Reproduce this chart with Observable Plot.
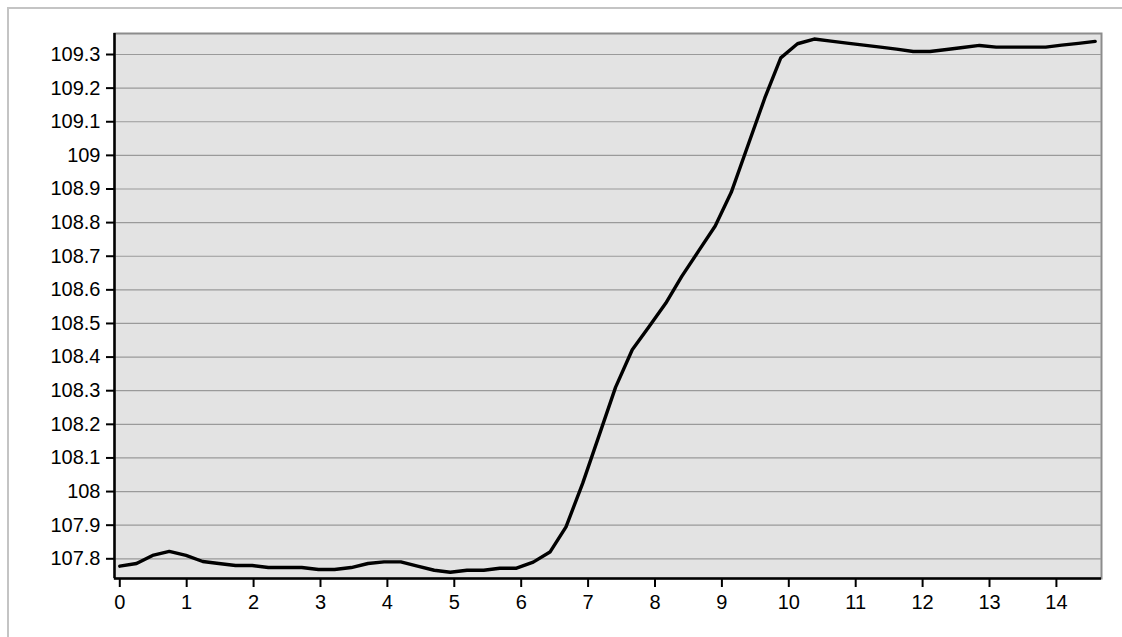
<!DOCTYPE html>
<html><head><meta charset="utf-8">
<script src="https://cdn.jsdelivr.net/npm/d3@7"></script>
<script src="https://cdn.jsdelivr.net/npm/@observablehq/plot@0.6"></script>
<style>
html,body{margin:0;padding:0;background:#fff;overflow:hidden}
#wrap{position:relative;width:1122px;height:637px;overflow:hidden}
#outer{position:absolute;left:7px;top:7px;width:1200px;height:700px;border-top:2px solid #c4c4c4;border-left:2px solid #c4c4c4}
#chart{position:absolute;left:0;top:0}
</style></head><body><div id="wrap"><div id="outer"></div><div id="chart"></div></div>
<script>
const times = [0, 0.25, 0.49, 0.74, 0.99, 1.24, 1.48, 1.73, 1.98, 2.22, 2.47, 2.72, 2.97, 3.21, 3.46, 3.71, 3.95, 4.2, 4.45, 4.7, 4.94, 5.19, 5.44, 5.68, 5.93, 6.18, 6.43, 6.67, 6.92, 7.17, 7.41, 7.66, 7.91, 8.16, 8.40, 8.65, 8.90, 9.14, 9.39, 9.64, 9.88, 10.13, 10.38, 10.63, 10.87, 11.12, 11.37, 11.61, 11.86, 12.11, 12.36, 12.60, 12.85, 13.10, 13.34, 13.59, 13.84, 14.08, 14.33, 14.58];
const values = [107.778, 107.786, 107.81, 107.822, 107.81, 107.792, 107.786, 107.78, 107.78, 107.774, 107.774, 107.774, 107.768, 107.768, 107.774, 107.786, 107.791, 107.791, 107.778, 107.766, 107.76, 107.766, 107.766, 107.772, 107.772, 107.79, 107.82, 107.895, 108.025, 108.17, 108.31, 108.422, 108.49, 108.56, 108.64, 108.715, 108.79, 108.89, 109.03, 109.17, 109.29, 109.332, 109.346, 109.34, 109.334, 109.328, 109.322, 109.316, 109.309, 109.309, 109.315, 109.321, 109.327, 109.322, 109.322, 109.322, 109.322, 109.328, 109.333, 109.339];
const xTicks = [0, 1, 2, 3, 4, 5, 6, 7, 8, 9, 10, 11, 12, 13, 14];
const yTicks = [107.8, 107.9, 108, 108.1, 108.2, 108.3, 108.4, 108.5, 108.6, 108.7, 108.8, 108.9, 109, 109.1, 109.2, 109.3];
const xDomain = [-0.079, 14.674];
const yDomain = [107.7414, 109.3625];

const data = times.map((t, i) => ({t, v: values[i]}));
const plot = Plot.plot({
  width: 1122, height: 637,
  marginTop: 33, marginLeft: 114, marginRight: 21, marginBottom: 59,
  style: {fontFamily: "Arial, 'Liberation Sans', sans-serif", fontSize: "20px", background: "transparent", color: "#000"},
  x: {domain: xDomain, label: null},
  y: {domain: yDomain, label: null},
  marks: [
    Plot.frame({fill: "#e3e3e3", stroke: "#8c8c8c", strokeWidth: 2}),
    Plot.gridY(yTicks, {stroke: "#9a9a9a", strokeOpacity: 1, strokeWidth: 1.2}),
    Plot.ruleX([xDomain[0]], {stroke: "#000", strokeWidth: 2.5}),
    Plot.ruleY([yDomain[0]], {stroke: "#000", strokeWidth: 2.5}),
    Plot.axisX(xTicks, {tickSize: 9, strokeWidth: 2, tickPadding: 7, tickFormat: d => String(d), fontSize: 20, label: null}),
    Plot.axisY(yTicks, {tickSize: 8, strokeWidth: 2, tickPadding: 6, tickFormat: d => String(d), fontSize: 20, label: null}),
    Plot.line(data, {x: "t", y: "v", stroke: "#000", strokeWidth: 3.4, strokeLinejoin: "round"})
  ]
});
document.getElementById("chart").appendChild(plot);
</script>
</body></html>
